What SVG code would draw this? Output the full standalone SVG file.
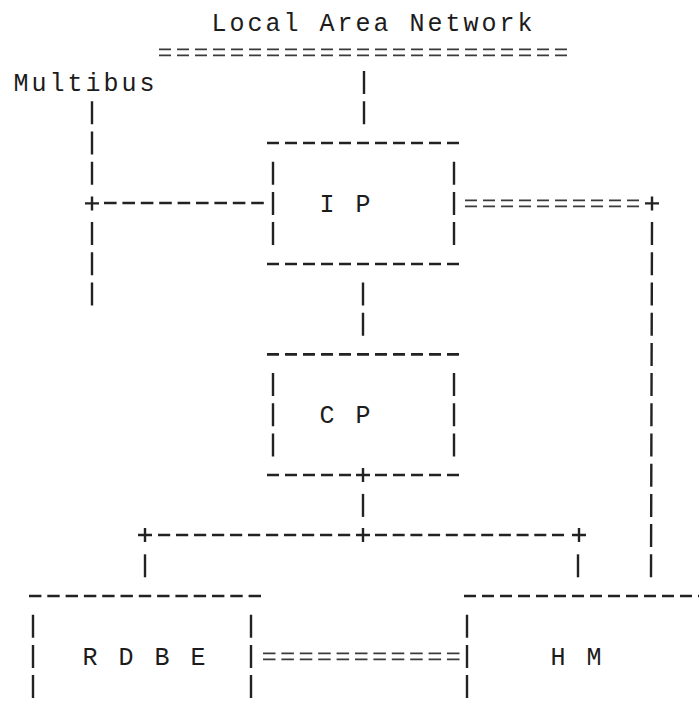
<svg xmlns="http://www.w3.org/2000/svg" xmlns:xlink="http://www.w3.org/1999/xlink" width="699" height="711" viewBox="0 0 699 711">
  <style>
    text { font-family: "Liberation Mono", "DejaVu Sans Mono", monospace; font-size: 25px; letter-spacing: 3px; fill: #1c1c1c; }
    .dash { stroke: #222; stroke-width: 2.6; stroke-dasharray: 12 6; fill: none; }
    .vbar { stroke: #222; stroke-width: 2.4; stroke-dasharray: 23 7.2; fill: none; }
    .eq { stroke: #3a3a3a; stroke-width: 1.8; stroke-dasharray: 12 6; fill: none; }
    .plus { stroke: #222; stroke-width: 2.4; fill: none; }
  </style>
  <defs>
    <!-- "+" junction, centred on its cell -->
    <path id="plus" class="plus" d="M-7 0H7M0 -7V7"/>
  </defs>
  <rect width="699" height="711" fill="#fff"/>

  <!-- Local Area Network bus -->
  <g id="lan">
    <text x="211.5" y="31">Local Area Network</text>
    <line class="eq" x1="159" y1="49.4" x2="573" y2="49.4"/>
    <line class="eq" x1="159" y1="55.4" x2="573" y2="55.4"/>
  </g>

  <!-- Multibus -->
  <g id="multibus">
    <text x="13.5" y="91">Multibus</text>
    <line class="vbar" x1="92" y1="101.3" x2="92" y2="184.7"/>
    <line class="vbar" x1="92" y1="222.1" x2="92" y2="305.5"/>
  </g>

  <!-- I P -->
  <g id="ip">
    <line class="dash" x1="267" y1="143" x2="459" y2="143"/>
    <line class="dash" x1="267" y1="264" x2="459" y2="264"/>
    <line class="vbar" x1="273" y1="161.7" x2="273" y2="245.1"/>
    <line class="vbar" x1="454" y1="161.7" x2="454" y2="245.1"/>
    <text x="319.5" y="212">I  P</text>
  </g>

  <!-- C P -->
  <g id="cp">
    <line class="dash" x1="267" y1="354.4" x2="459" y2="354.4"/>
    <line class="dash" x1="267" y1="475" x2="351" y2="475"/>
    <line class="dash" x1="375" y1="475" x2="459" y2="475"/>
    <line class="vbar" x1="273" y1="373.1" x2="273" y2="456.5"/>
    <line class="vbar" x1="454" y1="373.1" x2="454" y2="456.5"/>
    <text x="319.5" y="423.3">C  P</text>
  </g>

  <!-- R D B E -->
  <g id="rdbe">
    <line class="dash" x1="29" y1="596" x2="262" y2="596" style="stroke-dasharray:12.4 5.9"/>
    <line class="vbar" x1="33" y1="614.7" x2="33" y2="698.1"/>
    <line class="vbar" x1="251" y1="614.7" x2="251" y2="698.1"/>
    <text x="82.5" y="665">R D B E</text>
  </g>

  <!-- H M -->
  <g id="hm">
    <line class="dash" x1="464" y1="596" x2="699" y2="596"/>
    <line class="vbar" x1="467" y1="614.7" x2="467" y2="698.1"/>
    <text x="550.5" y="665">H M</text>
  </g>

  <!-- connectors -->
  <g id="connectors">
    <!-- LAN drop to I P -->
    <line class="vbar" x1="364" y1="71.1" x2="364" y2="124.3"/>
    <!-- Multibus to I P -->
    <use xlink:href="#plus" x="92" y="203.4"/>
    <line class="dash" x1="104" y1="203" x2="264" y2="203" style="stroke-dasharray:12.6 5.8"/>
    <!-- I P to H M -->
    <line class="eq" x1="465" y1="200.4" x2="639" y2="200.4"/>
    <line class="eq" x1="465" y1="206.4" x2="639" y2="206.4"/>
    <use xlink:href="#plus" x="652" y="203.4"/>
    <line class="vbar" x1="652" y1="222.1" x2="651" y2="577.3"/>
    <!-- I P to C P -->
    <line class="vbar" x1="363" y1="282.5" x2="363" y2="335.7"/>
    <!-- C P down to the fan-out -->
    <use xlink:href="#plus" x="363" y="475"/>
    <line class="vbar" x1="363" y1="493.9" x2="363" y2="516.9"/>
    <use xlink:href="#plus" x="145" y="535"/>
    <use xlink:href="#plus" x="363" y="535"/>
    <use xlink:href="#plus" x="579" y="535"/>
    <line class="dash" x1="158" y1="535" x2="351" y2="535" style="stroke-dasharray:12.2 5.8"/>
    <line class="dash" x1="375" y1="535" x2="567" y2="535" style="stroke-dasharray:12 5.7"/>
    <line class="vbar" x1="145" y1="554.3" x2="145" y2="577.3"/>
    <line class="vbar" x1="578" y1="554.3" x2="578" y2="577.3"/>
    <!-- R D B E to H M -->
    <line class="eq" x1="263" y1="653.4" x2="460" y2="653.4" style="stroke-dasharray:12.5 5.9"/>
    <line class="eq" x1="263" y1="659.4" x2="460" y2="659.4" style="stroke-dasharray:12.5 5.9"/>
  </g>
</svg>
